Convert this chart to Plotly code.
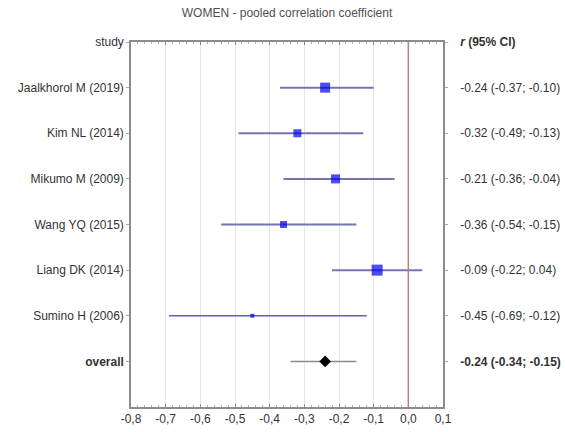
import plotly.graph_objects as go

studies = ["Jaalkhorol M (2019)", "Kim NL (2014)", "Mikumo M (2009)", "Wang YQ (2015)",
           "Liang DK (2014)", "Sumino H (2006)"]
r_vals = [-0.24, -0.32, -0.21, -0.36, -0.09, -0.45]
ci_low = [-0.37, -0.49, -0.36, -0.54, -0.22, -0.69]
ci_high = [-0.10, -0.13, -0.04, -0.15, 0.04, -0.12]
weights = [10, 8, 9, 7, 11, 4]  # marker sizes (relative study weights)

overall_label = "overall"
overall_r = -0.24
overall_low = -0.34
overall_high = -0.15

x_ticks = [-0.8, -0.7, -0.6, -0.5, -0.4, -0.3, -0.2, -0.1, 0.0, 0.1]
x_ticktext = ["-0,8", "-0,7", "-0,6", "-0,5", "-0,4", "-0,3", "-0,2", "-0,1", "0,0", "0,1"]

rows = list(range(len(studies)))
overall_row = len(studies)

def fmt(v):
    return f"{v:.2f}"

right_text = [f"{fmt(r)} ({fmt(l)}; {fmt(h)})" for r, l, h in zip(r_vals, ci_low, ci_high)]
overall_text = f"<b>{fmt(overall_r)} ({fmt(overall_low)}; {fmt(overall_high)})</b>"

fig = go.Figure()

# CI lines for studies
for i, (l, h) in enumerate(zip(ci_low, ci_high)):
    fig.add_trace(go.Scatter(
        x=[l, h], y=[i, i], mode="lines",
        line=dict(color="#5a5adc" if weights[i] < 6 else "#7474b0", width=1.3 if weights[i] < 6 else 2),
        hoverinfo="skip", showlegend=False))

# overall CI line
fig.add_trace(go.Scatter(
    x=[overall_low, overall_high], y=[overall_row, overall_row], mode="lines",
    line=dict(color="#8a8a8a", width=1.5), hoverinfo="skip", showlegend=False))

# study markers
fig.add_trace(go.Scatter(
    x=r_vals, y=rows, mode="markers",
    marker=dict(symbol="square", size=weights, color="#0000f0", line=dict(width=0)),
    showlegend=False))

# overall marker
fig.add_trace(go.Scatter(
    x=[overall_r], y=[overall_row], mode="markers",
    marker=dict(symbol="diamond", size=9, color="black"),
    showlegend=False))

# dummy trace to anchor right axis
fig.add_trace(go.Scatter(
    x=[overall_r], y=[overall_row], yaxis="y2", mode="markers",
    marker=dict(opacity=0), hoverinfo="skip", showlegend=False))

# null line
fig.add_shape(type="line", x0=0, x1=0, y0=0, y1=1, yref="paper", xref="x",
              line=dict(color="#c87a6e", width=1.5), layer="above")

left_vals = [-1] + rows + [overall_row]
left_text = ["study"] + studies + [f"<b>{overall_label}</b>"]
right_vals = [-1] + rows + [overall_row]
right_labels = ["<b><i>r</i> (95% CI)</b>"] + right_text + [overall_text]

font_color = "#333333"
axis_color = "#8c8c8c"
fs = 12

fig.update_layout(
    width=565, height=432,
    margin=dict(l=131, r=122, t=42, b=25),
    paper_bgcolor="white", plot_bgcolor="white",
    font=dict(family="Liberation Sans, Arial, sans-serif", size=fs, color=font_color),
    title=dict(text="WOMEN - pooled correlation coefficient", x=0.508, xanchor="center",
               y=0.97, yanchor="middle", font=dict(size=fs, color="#505050")),
    xaxis=dict(range=[-0.8, 0.1], tickmode="array", tickvals=x_ticks, ticktext=x_ticktext,
               automargin=False,
               showgrid=True, gridcolor="#e6e6e6", gridwidth=1,
               showline=True, linecolor=axis_color, linewidth=1.5, mirror="ticks",
               ticks="inside", ticklen=3, tickcolor=axis_color,
               minor=dict(tickvals=[round(-0.8 + 0.02 * k, 2) for k in range(46)],
                          ticks="inside", ticklen=2, tickcolor="#b0b0b0", showgrid=False),
               zeroline=False, tickfont=dict(size=fs, color=font_color)),
    yaxis=dict(range=[7, -1], tickmode="array", tickvals=left_vals, ticktext=left_text,
               automargin=False,
               showgrid=False, zeroline=False,
               showline=True, linecolor=axis_color, linewidth=1.5,
               ticks="outside", ticklen=3, tickcolor="#aaaaaa",
               tickfont=dict(size=fs, color=font_color)),
    yaxis2=dict(range=[7, -1], overlaying="y", side="right", tickmode="array",
                tickvals=right_vals, ticktext=right_labels,
                automargin=False,
                showgrid=False, zeroline=False,
                showline=True, linecolor=axis_color, linewidth=1.5,
                ticks="outside", ticklen=3, tickcolor="#aaaaaa",
                ticklabelstandoff=10,
                tickfont=dict(size=fs, color=font_color)),
)

fig.write_html("out.html")
